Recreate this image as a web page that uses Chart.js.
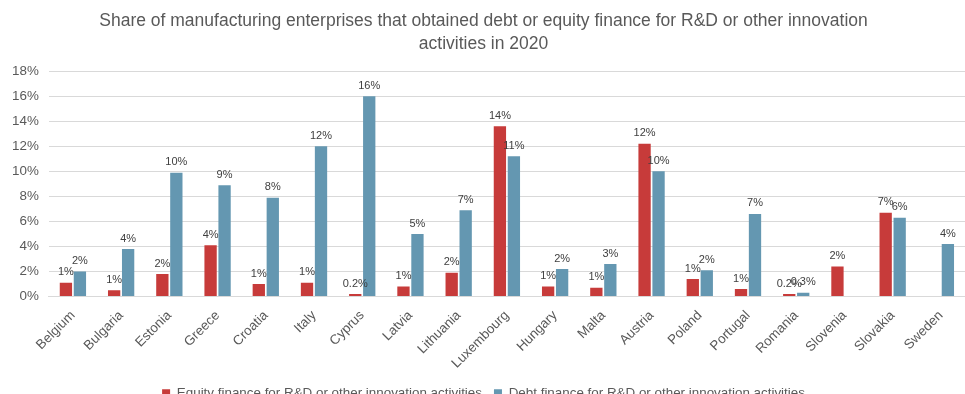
<!DOCTYPE html>
<html>
<head>
<meta charset="utf-8">
<script src="https://cdn.jsdelivr.net/npm/chart.js@4.4.0/dist/chart.umd.min.js"></script>
<style>
  html, body { margin: 0; padding: 0; background: #fff; overflow: hidden; }
  #wrap { width: 965px; height: 410px; position: relative; }
</style>
</head>
<body>
<div id="wrap"><canvas id="chart"></canvas></div>
<script>
// countries and shares (%)
const countries = ['Belgium', 'Bulgaria', 'Estonia', 'Greece', 'Croatia', 'Italy', 'Cyprus', 'Latvia',
    'Lithuania', 'Luxembourg', 'Hungary', 'Malta', 'Austria', 'Poland', 'Portugal', 'Romania',
    'Slovenia', 'Slovakia', 'Sweden'];
const equityShare = [1.1, 0.5, 1.8, 4.1, 1.0, 1.1, 0.2, 0.8, 1.9, 13.6, 0.8, 0.7, 12.2, 1.4, 0.6, 0.2, 2.4, 6.7, null];
const debtShare = [2.0, 3.8, 9.9, 8.9, 7.9, 12.0, 16.0, 5.0, 6.9, 11.2, 2.2, 2.6, 10.0, 2.1, 6.6, 0.3, null, 6.3, 4.2];
const seriesNames = ['Equity finance for R&D or other innovation activities',
    'Debt finance for R&D or other innovation activities'];
const yTicks = [0, 2, 4, 6, 8, 10, 12, 14, 16, 18];

const FONT = '"Liberation Sans", Arial, sans-serif';

function fmtPct(v) {
    return v < 0.45 ? v.toFixed(1) + '%' : Math.round(v) + '%';
}

// simple value labels above each bar
const barLabels = {
    id: 'barLabels',
    afterDatasetsDraw(chart) {
        const ctx = chart.ctx;
        ctx.save();
        ctx.font = '11px ' + FONT;
        ctx.fillStyle = '#404040';
        ctx.textAlign = 'center';
        ctx.textBaseline = 'bottom';
        chart.data.datasets.forEach((ds, i) => {
            chart.getDatasetMeta(i).data.forEach((bar, j) => {
                const v = ds.data[j];
                if (v == null) return;
                ctx.fillText(fmtPct(v), bar.x, bar.y - 5);
            });
        });
        ctx.restore();
    }
};

new Chart(document.getElementById('chart'), {
    type: 'bar',
    data: {
        labels: countries,
        datasets: [
            {
                label: seriesNames[0],
                data: equityShare,
                backgroundColor: '#C73B3A'
            },
            {
                label: seriesNames[1],
                data: debtShare,
                backgroundColor: '#6497B1'
            }
        ]
    },
    options: {
        responsive: true,
        maintainAspectRatio: false,
        animation: false,
        categoryPercentage: 0.58,
        barPercentage: 0.88,
        layout: { padding: { left: 2, right: 0, top: 4 } },
        plugins: {
            title: {
                display: true,
                text: ['Share of manufacturing enterprises that obtained debt or equity finance for R&D or other innovation',
                    'activities in 2020'],
                color: '#595959',
                font: { family: FONT, size: 17.5, weight: 'normal', lineHeight: 1.32 },
                padding: { top: 6, bottom: 15 }
            },
            legend: {
                position: 'bottom',
                labels: {
                    color: '#595959',
                    font: { family: FONT, size: 13.4 },
                    boxWidth: 8,
                    boxHeight: 8,
                    padding: 12
                }
            },
            tooltip: { enabled: false }
        },
        scales: {
            x: {
                grid: { display: false },
                border: { color: '#d9d9d9' },
                ticks: {
                    color: '#595959',
                    font: { family: FONT, size: 13.4 },
                    maxRotation: 45,
                    minRotation: 45,
                    autoSkip: false
                }
            },
            y: {
                min: 0,
                max: 18,
                afterBuildTicks(axis) {
                    axis.ticks = yTicks.map(v => ({ value: v }));
                },
                grid: { color: '#d9d9d9', drawTicks: false },
                border: { display: false },
                ticks: {
                    color: '#595959',
                    font: { family: FONT, size: 13.4 },
                    padding: 10,
                    callback: v => v + '%'
                }
            }
        }
    },
    plugins: [barLabels]
});
</script>
</body>
</html>
